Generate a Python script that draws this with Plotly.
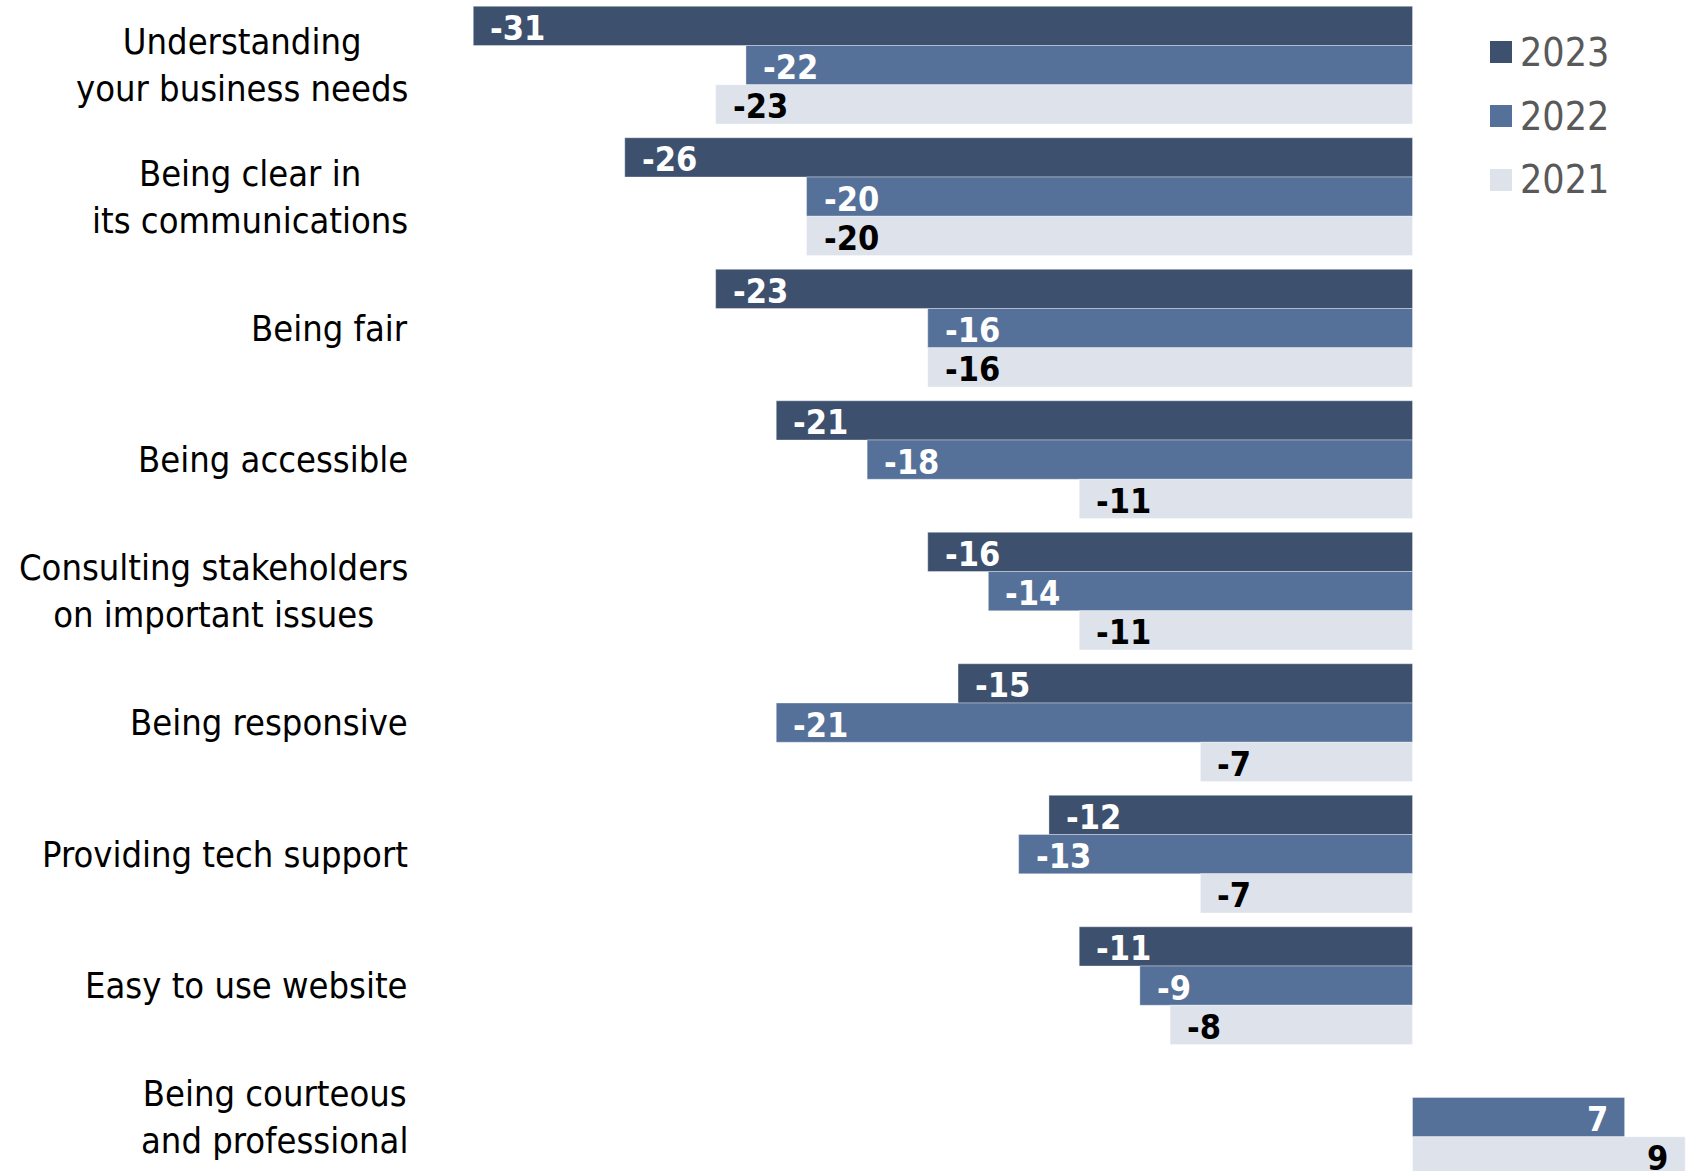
import plotly.graph_objects as go

# Survey items (top to bottom) and net scores per year
categories = [
    "Understanding<br>your business needs",
    "Being clear in<br>its communications",
    "Being fair",
    "Being accessible",
    "Consulting stakeholders<br>on important issues",
    "Being responsive",
    "Providing tech support",
    "Easy to use website",
    "Being courteous<br>and professional",
]
years = ["2023", "2022", "2021"]
values_2023 = [-31, -26, -23, -21, -16, -15, -12, -11, None]
values_2022 = [-22, -20, -16, -18, -14, -21, -13, -9, 7]
values_2021 = [-23, -20, -16, -11, -11, -7, -7, -8, 9]

series = [values_2023, values_2022, values_2021]
colors = ["#3d506e", "#567199", "#dee2eb"]
label_colors = ["#ffffff", "#ffffff", "#000000"]

FONT = "DejaVu Sans Condensed, DejaVu Sans, sans-serif"
W, H = 1692, 1171
BARGAP = 0.105
X_RANGE = [-46.62, 9.224]
Y_RANGE = [8.4096, -0.4954]

fig = go.Figure()
for name, vals, col in zip(years, series, colors):
    fig.add_trace(go.Bar(
        y=list(range(len(categories))),
        x=vals,
        name=name,
        orientation="h",
        marker=dict(color=col, line=dict(color="rgba(255,255,255,0.35)", width=1)),
        showlegend=False,
        hoverinfo="x+name",
    ))

annotations = []
slot = (1 - BARGAP) / len(years)
for i, (vals, tcol) in enumerate(zip(series, label_colors)):
    for j, v in enumerate(vals):
        if v is None:
            continue
        neg = v < 0
        annotations.append(dict(
            x=v, y=j + (i - 1) * slot, xref="x", yref="y",
            text=f"<b>{v}</b>", showarrow=False,
            xanchor="left" if neg else "right",
            xshift=15 if neg else -15, yshift=-2,
            font=dict(family=FONT, size=34, color=tcol),
        ))

# Category labels, right-aligned block with centred lines
for j, cat in enumerate(categories):
    annotations.append(dict(
        x=410 / W, y=j, xref="paper", yref="y",
        text=cat, showarrow=False, xanchor="right", yanchor="middle",
        align="center",
        font=dict(family=FONT, size=36, color="#000000"),
    ))

# Legend: swatches and year labels
shapes = []
for k, (name, col) in enumerate(zip(years, colors)):
    cy = 52 + 64 * k
    shapes.append(dict(
        type="rect", xref="paper", yref="paper",
        x0=1490 / W, x1=1512 / W,
        y0=1 - (cy - 11) / H, y1=1 - (cy + 11) / H,
        fillcolor=col, line=dict(width=0),
    ))
    annotations.append(dict(
        x=1518 / W, y=1 - cy / H, xref="paper", yref="paper",
        text=name, showarrow=False, xanchor="left", yanchor="middle",
        font=dict(family=FONT, size=39, color="#595959"),
    ))

fig.update_layout(
    width=W, height=H,
    margin=dict(l=0, r=0, t=0, b=0),
    barmode="group", bargap=BARGAP, bargroupgap=0,
    plot_bgcolor="white", paper_bgcolor="white",
    xaxis=dict(range=X_RANGE, visible=False, showgrid=False, zeroline=False),
    yaxis=dict(range=Y_RANGE, visible=False, showgrid=False, zeroline=False),
    annotations=annotations,
    shapes=shapes,
    font=dict(family=FONT),
)

fig.write_html("out.html")
